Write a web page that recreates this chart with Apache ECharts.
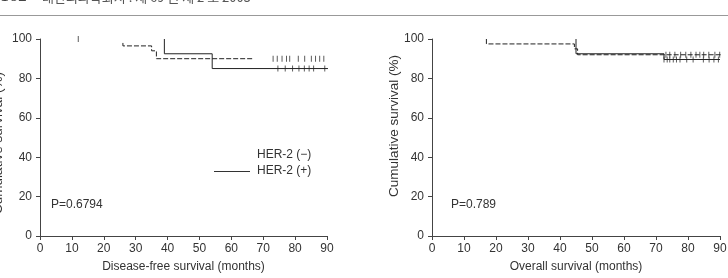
<!DOCTYPE html>
<html>
<head>
<meta charset="utf-8">
<script src="https://cdn.jsdelivr.net/npm/echarts@6/dist/echarts.min.js"></script>
<style>
  html, body { margin: 0; padding: 0; background: #fff; }
  #chart { width: 728px; height: 278px; }
</style>
</head>
<body>
<div id="chart"></div>
<script>
// x ticks, y ticks
const monthTicks = [0, 10, 20, 30, 40, 50, 60, 70, 80, 90];
const survTicks = [0, 20, 40, 60, 80, 100];

// Disease-free survival, [month, %]
const dfsNeg = [[26, 98], [26, 96.5], [35, 94], [36.5, 90], [67, 90]];
const dfsPos = [[39, 100], [39, 92.5], [54, 85], [90.3, 85]];
const dfsNegCensor = [[12, 100], [73.1, 90], [74.4, 90], [75.9, 90], [77.3, 90], [78.3, 90], [81, 90], [83, 90], [85.1, 90], [86.4, 90], [87.7, 90], [89, 90]];
const dfsPosCensor = [[74.6, 85], [76.9, 85], [79.2, 85], [81.2, 85], [82.9, 85], [84.4, 85], [85.8, 85], [89.3, 85]];

// Overall survival
const osNeg = [[17, 100], [17, 97.5], [44.5, 95], [45.5, 92], [90.3, 92]];
const osPos = [[45, 100], [45, 92.5], [72.5, 89.6], [90, 89.6]];
const osNegCensor = [[73.1, 92], [74.3, 92], [75.9, 92], [77.7, 92], [79.3, 92], [80.9, 92], [82.5, 92], [83.7, 92], [84.9, 92], [86.5, 92], [88.4, 92], [89.9, 92]];
const osPosCensor = [[72.5, 89.6], [73.5, 89.6], [74.3, 89.6], [75.4, 89.6], [76.4, 89.6], [77.5, 89.6], [79.6, 89.6], [81.6, 89.6], [84.8, 89.6], [86.6, 89.6], [88.1, 89.6], [89.5, 89.6]];

const pValues = ['P=0.6794', 'P=0.789'];
const groupNames = ['HER-2 (\u2212)', 'HER-2 (+)'];
const yTitle = 'Cumulative survival (%)';

const chart = echarts.init(document.getElementById('chart'));
const ink = '#333';
const font = 'Liberation Sans, Arial, sans-serif';

function xAxis(idx, name) {
  return {
    gridIndex: idx,
    type: 'value',
    min: 0,
    max: 90,
    interval: 10,
    name: name,
    nameLocation: 'middle',
    nameGap: 25,
    nameTextStyle: { color: ink, fontSize: 12, fontFamily: font },
    axisLine: { lineStyle: { color: '#444', width: 1 } },
    axisTick: { show: true, length: 4, lineStyle: { color: '#444' } },
    axisLabel: { color: ink, fontSize: 12, fontFamily: font, margin: 7 },
    splitLine: { show: false },
  };
}

function yAxis(idx) {
  return {
    gridIndex: idx,
    type: 'value',
    min: 0,
    max: 100,
    interval: 20,
    axisLine: { show: true, lineStyle: { color: '#444', width: 1 } },
    axisTick: { show: true, length: 4, lineStyle: { color: '#444' } },
    axisLabel: { color: ink, fontSize: 12, fontFamily: font, margin: 8 },
    splitLine: { show: false },
  };
}

function curve(idx, data, dashed) {
  return {
    type: 'line',
    xAxisIndex: idx,
    yAxisIndex: idx,
    data: data,
    step: 'end',
    symbol: 'none',
    lineStyle: { color: '#222', width: 1, type: dashed ? [5, 2] : 'solid' },
    silent: true,
  };
}

function censor(idx, data) {
  return {
    type: 'scatter',
    xAxisIndex: idx,
    yAxisIndex: idx,
    data: data,
    symbol: 'rect',
    symbolSize: [1, 6],
    itemStyle: { color: '#333' },
    silent: true,
  };
}

// rotated y title (the left one is mostly cut off by the page edge)
function yName(x, y) {
  return {
    type: 'text', x: x, y: y, rotation: Math.PI / 2,
    style: { text: yTitle, fontSize: 13.5, fill: ink, fontFamily: font, align: 'center', verticalAlign: 'middle' },
  };
}

const option = {
  animation: false,
  grid: [
    { left: 40, right: 401, top: 39, bottom: 42, outerBoundsMode: 'none' },
    { left: 432, right: 8, top: 39, bottom: 42, outerBoundsMode: 'none' },
  ],
  xAxis: [
    xAxis(0, 'Disease-free survival (months)'),
    xAxis(1, 'Overall survival (months)'),
  ],
  yAxis: [yAxis(0), yAxis(1)],
  series: [
    curve(0, dfsNeg, true),
    curve(0, dfsPos, false),
    censor(0, dfsNegCensor),
    censor(0, dfsPosCensor),
    curve(1, osNeg, true),
    curve(1, osPos, false),
    censor(1, osNegCensor),
    censor(1, osPosCensor),
  ],
  graphic: [
    { type: 'text', left: 0, top: -9, style: { text: '162', fontSize: 13, fontWeight: 'bold', fill: '#444', fontFamily: 'DejaVu Serif, serif' } },
    { type: 'text', left: 42, top: -9, style: { text: '대한외과학회지 : 제 69 권 제 2 호 2005', fontSize: 13, fill: '#555', fontFamily: 'Noto Sans CJK KR, sans-serif' } },
    { type: 'line', shape: { x1: 0, y1: 15.5, x2: 728, y2: 15.5 }, style: { stroke: '#999', lineWidth: 1 } },
    yName(-2, 143),
    yName(394, 126),
    { type: 'text', left: 51, top: 199, style: { text: pValues[0], fontSize: 12, fill: ink, fontFamily: font } },
    { type: 'text', left: 451, top: 199, style: { text: pValues[1], fontSize: 12, fill: ink, fontFamily: font } },
    { type: 'text', left: 257, top: 149, style: { text: groupNames[0], fontSize: 12, fill: ink, fontFamily: font } },
    { type: 'text', left: 257, top: 165, style: { text: groupNames[1], fontSize: 12, fill: ink, fontFamily: font } },
    { type: 'line', shape: { x1: 214, y1: 171.5, x2: 250, y2: 171.5 }, style: { stroke: '#333', lineWidth: 1 } },
  ],
};

chart.setOption(option);
</script>
</body>
</html>
